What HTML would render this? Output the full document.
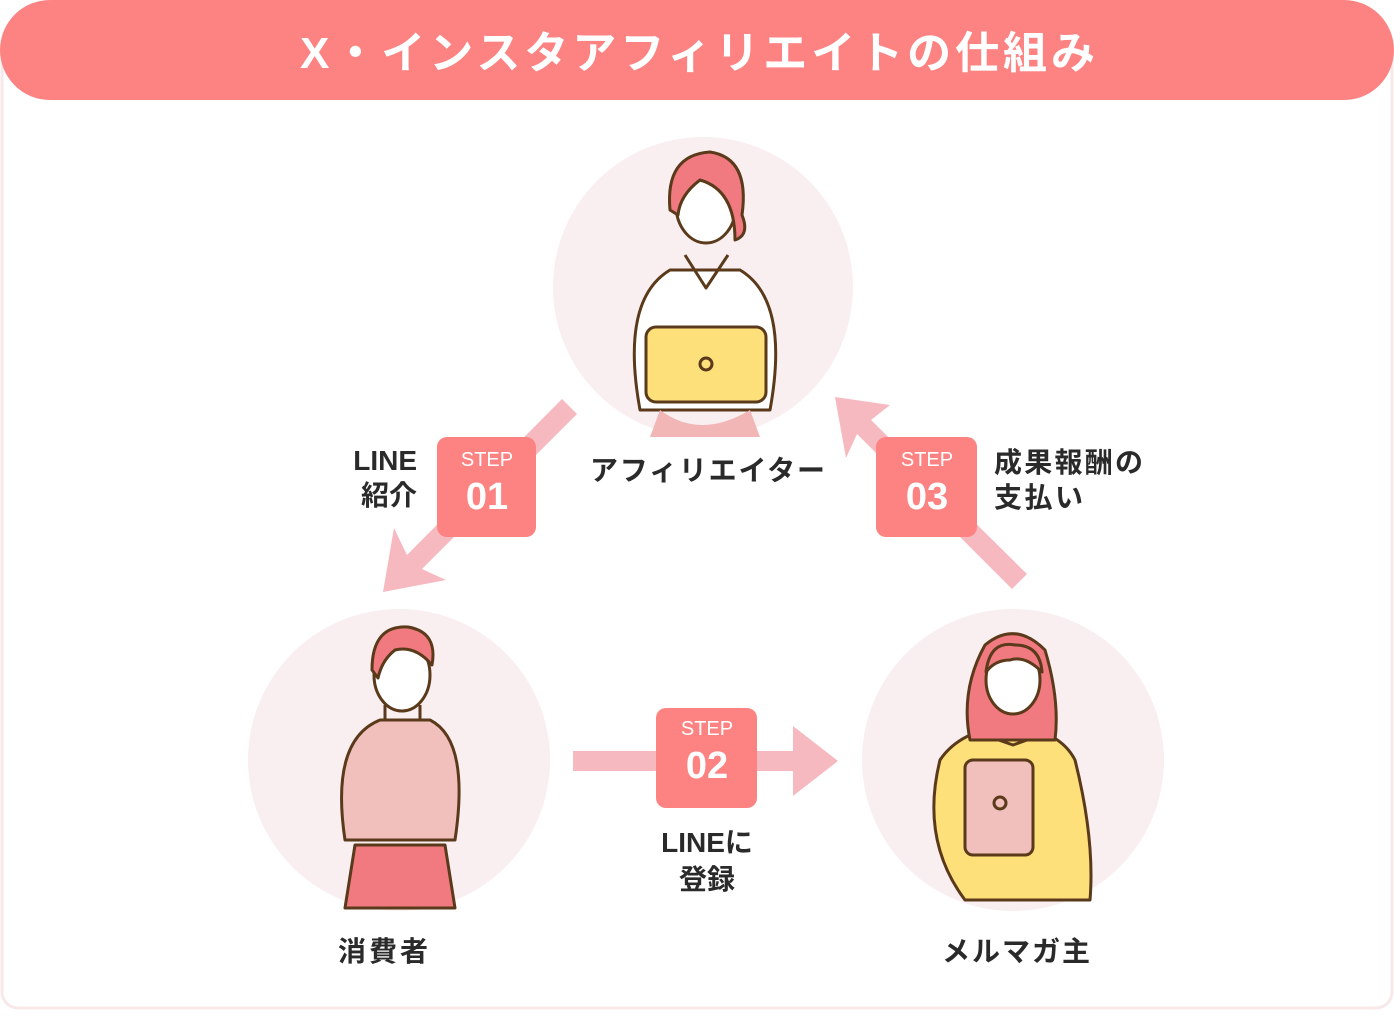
<!DOCTYPE html>
<html><head><meta charset="utf-8"><style>
body{margin:0;width:1394px;height:1012px;background:#fff;font-family:"Liberation Sans","Noto Sans CJK JP",sans-serif;overflow:hidden}
svg text{font-family:"Liberation Sans","Noto Sans CJK JP",sans-serif;font-weight:700}
</style></head><body>
<svg width="1394" height="1012" viewBox="0 0 1394 1012">
<rect x="2" y="30" width="1390" height="978" rx="16" fill="#fff" stroke="#f7e8ea" stroke-width="3"/>
<rect x="0" y="0" width="1394" height="100" rx="50" fill="#fd8383"/>
<text x="300" y="68" font-size="44" fill="#fff" textLength="795" lengthAdjust="spacing">X・インスタアフィリエイトの仕組み</text>
<circle cx="703" cy="287" r="150" fill="#f9eef0"/>
<circle cx="399" cy="760" r="151" fill="#f9eef0"/>
<circle cx="1013" cy="760" r="151" fill="#f9eef0"/>
<g fill="#f7b9c0">
<polygon points="562,399 577,414 422,569 446,580 383,592 394,528 407,555"/>
<polygon points="1027,574 1012,589 857,434 846,458 835,397 890,405 871,420"/>
<polygon points="573,751 793,751 793,726 838,761 793,796 793,771 573,771"/>
</g>
<g stroke="#5a3a1a" stroke-width="3" stroke-linejoin="round">
<path d="M640,410 Q620,300 670,270 L740,270 Q790,300 770,410 Z" fill="#fff"/>
<path d="M660,410 Q700,440 750,410 L760,437 L650,437 Z" fill="#f3b6b6" stroke="none"/>
<rect x="646" y="327" width="120" height="75" rx="10" fill="#fde07a"/>
<circle cx="706" cy="364" r="6" fill="none"/>
<path d="M685,255 L706,288 L728,255" fill="none"/>
<ellipse cx="706" cy="205" rx="30" ry="38" fill="#fff"/>
<path d="M670,210 Q665,155 710,152 Q750,158 742,215 Q750,235 735,240 Q735,190 700,180 Q680,195 678,215 Z" fill="#f07a80"/>
<path d="M345,840 Q330,740 380,720 L430,720 Q470,740 455,840 Z" fill="#f1bfbc"/>
<path d="M355,845 L445,845 L455,908 L345,908 Z" fill="#f07a80"/>
<ellipse cx="402" cy="675" rx="28" ry="36" fill="#fff"/>
<path d="M372,670 Q372,625 408,627 Q438,632 432,665 Q415,645 395,650 Q382,660 378,678 Z" fill="#f07a80"/>
<path d="M385,705 L385,720 L420,720 L420,705" fill="none"/>
<path d="M965,900 Q920,840 940,760 Q960,730 1010,725 Q1060,730 1075,760 Q1095,840 1090,900 Z" fill="#fde07a"/>
<path d="M970,730 L1013,745 L1055,730" fill="none"/>
<rect x="965" y="760" width="68" height="95" rx="8" fill="#f1bfbc"/>
<circle cx="1000" cy="803" r="6" fill="none"/>
<path d="M970,740 Q960,690 985,645 Q1015,620 1045,650 Q1060,700 1055,740 Z" fill="#f07a80"/>
<ellipse cx="1013" cy="680" rx="27" ry="34" fill="#fff"/>
<path d="M986,672 Q990,640 1015,645 Q1040,645 1042,672 Q1025,655 1010,660 Q995,660 986,672 Z" fill="#f07a80"/>
</g>
<g fill="#fd8383">
<rect x="437" y="437" width="99" height="100" rx="10"/>
<rect x="876" y="437" width="101" height="100" rx="10"/>
<rect x="656" y="708" width="101" height="100" rx="10"/>
</g>
<g fill="#fff" text-anchor="middle">
<text x="487" y="466" font-size="20" style="font-weight:400">STEP</text>
<text x="487" y="509" font-size="38">01</text>
<text x="927" y="466" font-size="20" style="font-weight:400">STEP</text>
<text x="927" y="509" font-size="38">03</text>
<text x="707" y="735" font-size="20" style="font-weight:400">STEP</text>
<text x="707" y="778" font-size="38">02</text>
</g>
<g fill="#2a2a2a" font-size="28">
<text x="417" y="470" text-anchor="end">LINE</text>
<text x="417" y="505" text-anchor="end">紹介</text>
<text x="994" y="472" textLength="149" lengthAdjust="spacing">成果報酬の</text>
<text x="994" y="507" textLength="89" lengthAdjust="spacing">支払い</text>
<text x="707" y="852" text-anchor="middle">LINEに</text>
<text x="707" y="889" text-anchor="middle">登録</text>
<text x="590" y="480" textLength="235" lengthAdjust="spacing">アフィリエイター</text>
<text x="338" y="961" textLength="90" lengthAdjust="spacing">消費者</text>
<text x="942" y="961" textLength="148" lengthAdjust="spacing">メルマガ主</text>
</g>
</svg>
</body></html>
